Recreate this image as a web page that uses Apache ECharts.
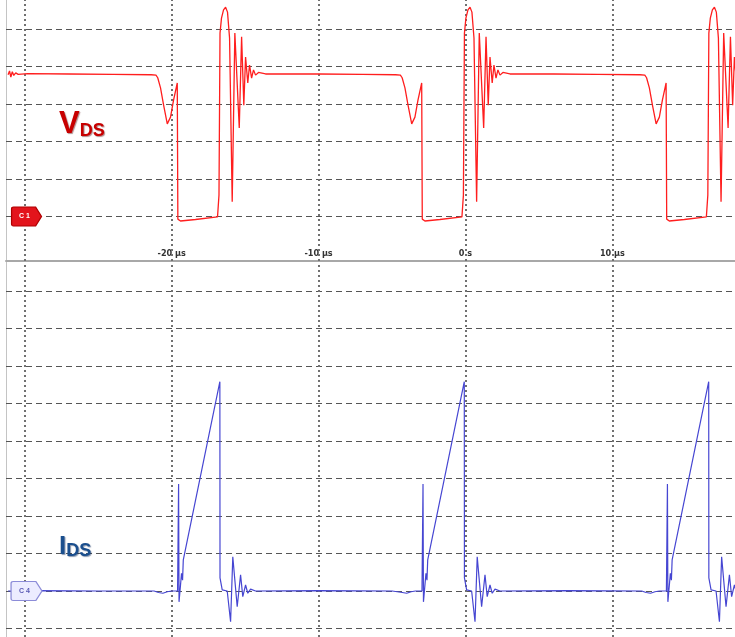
<!DOCTYPE html>
<html><head><meta charset="utf-8">
<script src="https://cdn.jsdelivr.net/npm/echarts@6/dist/echarts.min.js"></script>
<style>html,body{margin:0;padding:0;background:#fff}#c{width:735px;height:637px}</style>
</head><body><div id="c"></div>
<script>
// VDS trace (time in µs, value in divisions above C1 ground)
const vdsTime = [
-31.14,-31.04,-30.95,-30.85,-30.75,-30.62,-30.45,-29.80,-27.00,-24.00,-21.40,
-21.07,-20.95,-20.76,-20.55,-20.30,-20.08,-19.87,-19.62,-19.58,-19.40,-18.38,-16.88,-16.78,-16.71,-16.61,-16.47,-16.33,-16.20,-16.06,-15.88,-15.70,-15.40,-15.24,-15.09,-14.97,-14.82,-14.70,-14.56,-14.43,-14.29,-14.09,-13.61,-10.00,-7.00,-4.76,
-4.43,-4.31,-4.12,-3.91,-3.66,-3.44,-3.23,-2.98,-2.94,-2.76,-1.74,-0.24,-0.14,-0.07,0.03,0.17,0.31,0.44,0.58,0.76,0.94,1.24,1.40,1.55,1.67,1.82,1.94,2.08,2.21,2.35,2.55,3.03,6.00,9.00,11.88,
12.21,12.33,12.52,12.73,12.98,13.20,13.41,13.66,13.70,13.88,14.90,16.40,16.50,16.57,16.67,16.81,16.95,17.08,17.22,17.40,17.58,17.88,18.04,18.19,18.31,18.46
];
const vdsValue = [
3.78,3.88,3.72,3.86,3.76,3.83,3.79,3.81,3.80,3.79,3.78,
3.77,3.70,3.43,2.97,2.47,2.65,3.11,3.56,-0.07,-0.12,-0.08,-0.01,0.57,4.89,5.29,5.51,5.58,5.45,4.76,0.39,4.89,2.36,4.79,2.97,4.25,3.56,4.04,3.69,3.91,3.77,3.84,3.80,3.80,3.79,3.78,
3.77,3.70,3.43,2.97,2.47,2.65,3.11,3.56,-0.07,-0.12,-0.08,-0.01,0.57,4.89,5.29,5.51,5.58,5.45,4.76,0.39,4.89,2.36,4.79,2.97,4.25,3.56,4.04,3.69,3.91,3.77,3.84,3.80,3.80,3.79,3.78,
3.77,3.70,3.43,2.97,2.47,2.65,3.11,3.56,-0.07,-0.12,-0.08,-0.01,0.57,4.89,5.29,5.51,5.58,5.45,4.76,0.39,4.89,2.36,4.79,2.97,4.25,3.56
];
// IDS trace (time in µs, value in divisions above C4 ground)
const idsTime = [
-31.14,-29.00,-25.00,-21.20,-20.90,-20.60,-20.30,-20.00,-19.60,-19.53,-19.50,-19.33,-19.26,-19.21,-16.72,-16.71,-16.56,-16.22,-16.10,-15.99,-15.84,-15.54,-15.31,-15.16,-14.97,-14.82,-14.63,-14.29,
-10.00,-5.00,-4.30,-4.00,-3.70,-3.40,-2.96,-2.89,-2.86,-2.69,-2.62,-2.57,-0.08,-0.07,0.08,0.42,0.54,0.65,0.80,1.10,1.33,1.48,1.67,1.82,2.01,2.35,
7.00,12.00,12.30,12.60,12.90,13.20,13.68,13.75,13.78,13.95,14.02,14.07,16.56,16.57,16.72,17.06,17.18,17.29,17.44,17.74,17.97,18.12,18.31,18.46
];
const idsValue = [
0.00,0.01,0.00,0.00,-0.04,-0.06,-0.02,0.00,0.00,2.85,-0.29,0.47,0.29,0.83,5.58,0.35,0.03,0.00,-0.05,-0.82,0.91,-0.42,0.43,-0.15,0.16,-0.06,0.05,0.00,
0.01,0.00,-0.04,-0.06,-0.02,0.00,0.00,2.85,-0.29,0.47,0.29,0.83,5.58,0.35,0.03,0.00,-0.05,-0.82,0.91,-0.42,0.43,-0.15,0.16,-0.06,0.05,0.00,
0.01,0.00,-0.04,-0.06,-0.02,0.00,0.00,2.85,-0.29,0.47,0.29,0.83,5.58,0.35,0.03,0.00,-0.05,-0.82,0.91,-0.42,0.43,-0.15,0.16,-0.06
];
const timeGridLines = [-30,-20,-10,0,10];
const vdsGridLevels = [0,1,2,3,4,5];
const idsGridLevels = [-1,0,1,2,3,4,5,6,7,8];
const tickValues = [-20,-10,0,10];
const tickLabels = ['-20 µs','-10 µs','0 s','10 µs'];
const tagTime = -29.88;

const zip = (a,b)=>a.map((t,i)=>[t,b[i]]);
const X_MIN = -31.28, X_MAX = 18.35;

function gridMarks(levels){
  const h = levels.map(v=>({yAxis:v, lineStyle:{type:[6,4], color:'#555555', width:1}}));
  const v = timeGridLines.map(t=>({xAxis:t, lineStyle:{type:[2,3], color:'#707070', width:2}}));
  return {z:1, silent:true, animation:false, symbol:['none','none'], label:{show:false}, data:h.concat(v)};
}
const tagPath = 'path://M2,0 L24,0 L30,9.5 L24,19 L2,19 Q0,19 0,17 L0,2 Q0,0 2,0 Z';

const chart = echarts.init(document.getElementById('c'), null, {renderer:'canvas'});
chart.setOption({
  animation:false,
  backgroundColor:'#ffffff',
  title:[
    {text:'{a|V}{b|DS}', left:59, top:109, padding:0,
     textStyle:{rich:{
       a:{fontSize:31, fontWeight:'bold', color:'#c80000', fontFamily:'Liberation Sans', verticalAlign:'bottom', textShadowColor:'rgba(80,0,0,0.45)', textShadowOffsetX:1, textShadowOffsetY:1, textShadowBlur:1},
       b:{fontSize:18, fontWeight:'bold', color:'#c80000', fontFamily:'Liberation Sans', verticalAlign:'bottom', textShadowColor:'rgba(80,0,0,0.45)', textShadowOffsetX:1, textShadowOffsetY:1, textShadowBlur:1}
     }}},
    {text:'{a|I}{b|DS}', left:59, top:534, padding:0,
     textStyle:{rich:{
       a:{fontSize:26, fontWeight:'bold', color:'#1b4f8e', fontFamily:'Liberation Sans', verticalAlign:'bottom', textShadowColor:'rgba(0,30,80,0.45)', textShadowOffsetX:1, textShadowOffsetY:1, textShadowBlur:1},
       b:{fontSize:18, fontWeight:'bold', color:'#1b4f8e', fontFamily:'Liberation Sans', verticalAlign:'bottom', textShadowColor:'rgba(0,30,80,0.45)', textShadowOffsetX:1, textShadowOffsetY:1, textShadowBlur:1}
     }}}
  ],
  grid:[
    {left:6, right:0, top:0, height:261, outerBoundsMode:'none'},
    {left:6, right:0, top:262, height:375, outerBoundsMode:'none'}
  ],
  xAxis:[
    {gridIndex:0, type:'value', min:X_MIN, max:X_MAX, position:'bottom',
     axisLine:{show:true, onZero:false, lineStyle:{color:'#a8a8a8', width:2}},
     axisTick:{show:false}, splitLine:{show:false},
     axisLabel:{show:true, inside:true, customValues:tickValues, formatter:v=>tickLabels[tickValues.indexOf(v)],
       fontSize:9, fontWeight:'bold', color:'#333', margin:3, fontFamily:'DejaVu Sans Condensed'}},
    {gridIndex:1, type:'value', min:X_MIN, max:X_MAX, show:false, splitLine:{show:false}}
  ],
  yAxis:[
    {gridIndex:0, type:'value', min:-1.187, max:5.773, axisLine:{show:true, onZero:false, lineStyle:{color:'#c4c4c4', width:1}},
     axisLabel:{show:false}, axisTick:{show:false}, splitLine:{show:false}},
    {gridIndex:1, type:'value', min:-1.227, max:8.773, axisLine:{show:true, onZero:false, lineStyle:{color:'#c4c4c4', width:1}},
     axisLabel:{show:false}, axisTick:{show:false}, splitLine:{show:false}}
  ],
  series:[
    {name:'VDS', type:'line', xAxisIndex:0, yAxisIndex:0, z:3, data:zip(vdsTime,vdsValue), showSymbol:false, symbol:'none',
     lineStyle:{color:'#ff1e1e', width:1.3}, silent:true,
     markLine:gridMarks(vdsGridLevels),
     markPoint:{z:6, silent:true, animation:false, data:[{coord:[tagTime,0], symbol:tagPath, symbolSize:[30,19],
       itemStyle:{color:'#e3141c', borderColor:'#b00000', borderWidth:1},
       label:{show:true, position:'inside', formatter:'C 1', color:'#fff', fontSize:7, fontWeight:'bold', offset:[-2,0]}}]}},
    {name:'IDS', type:'line', xAxisIndex:1, yAxisIndex:1, z:3, data:zip(idsTime,idsValue), showSymbol:false, symbol:'none',
     lineStyle:{color:'#4646d2', width:1.2}, silent:true,
     markLine:gridMarks(idsGridLevels),
     markPoint:{z:6, silent:true, animation:false, data:[{coord:[tagTime,0], symbol:tagPath, symbolSize:[31,19],
       itemStyle:{color:'#ececff', borderColor:'#8c8cd8', borderWidth:1},
       label:{show:true, position:'inside', formatter:'C 4', color:'#5a5ab4', fontSize:7, fontWeight:'bold', offset:[-2,0]}}]}}
  ]
});
</script></body></html>
